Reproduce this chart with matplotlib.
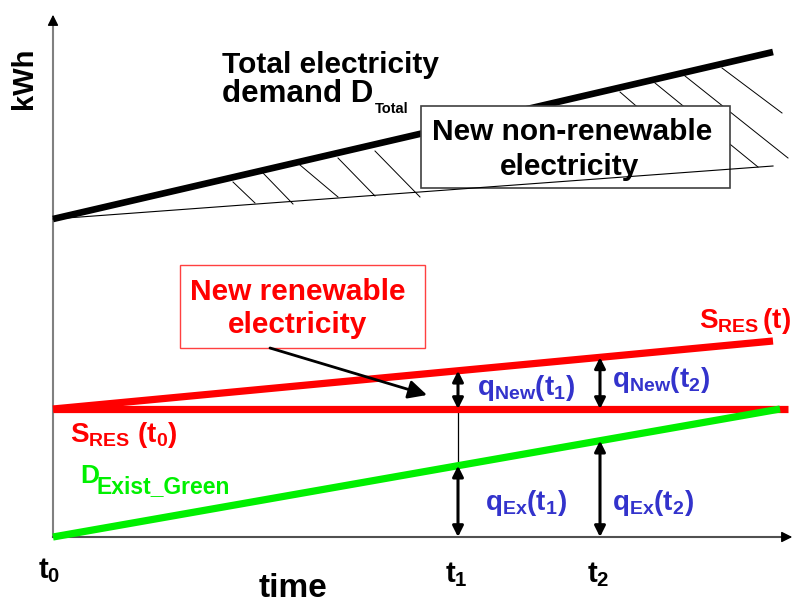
import matplotlib
matplotlib.use("Agg")
import matplotlib.pyplot as plt
from matplotlib.patches import Rectangle
import numpy as np

plt.rcParams["font.family"] = ["Liberation Sans", "DejaVu Sans"]
plt.rcParams["font.weight"] = "bold"
plt.rcParams["mathtext.fontset"] = "custom"
for k in ("rm", "it", "bf", "sf"):
    plt.rcParams["mathtext." + k] = "Liberation Sans:bold"

# --- Schema-Daten (Zeit rechts, kWh hoch; Ursprung = Achsenkreuz) ---
T0, T1, T2 = 0, 405, 547
demand_x, demand_y = [0, 720], [318, 485]          # D_Total
floor_x, floor_y = [0, 720], [318, 371]            # untere Grenze neue nicht-EE
sres0_x, sres0_y = [0, 735], [128, 128]            # S_RES(t0)
sres_x, sres_y = [0, 720], [128, 196]              # S_RES(t)
green_x, green_y = [0, 727], [0, 128]              # D_Exist_Green
hatch_x0 = [180, 210, 247, 285, 322, 567, 602, 632, 669]
hatch_y0 = [355, 364, 372, 379, 386, 445, 454, 461, 469]
hatch_x1 = [202, 240, 285, 322, 367, 657, 705, 735, 729]
hatch_y1 = [334, 333, 340, 341, 340, 367, 370, 379, 424]
x_axis_end, y_axis_end = 742, 525

RED, GREEN, BLUE = "#ff0000", "#00f000", "#3333cc"

fig = plt.figure(figsize=(7.95, 6.04), dpi=100)
ax = fig.add_axes([0, 0, 1, 1])
ax.set_xlim(-53, 742)
ax.set_ylim(-67, 537)
ax.axis("off")

# Achsen
ax.plot([0, 0], [0, y_axis_end - 8], color="#808080", lw=1.5)
ax.plot([0, x_axis_end - 8], [0, 0], color="#505050", lw=1.5)
ax.annotate("", xy=(0, y_axis_end), xytext=(0, y_axis_end - 10),
            arrowprops=dict(arrowstyle="-|>", color="black", lw=1, mutation_scale=16))
ax.annotate("", xy=(x_axis_end, 0), xytext=(x_axis_end - 10, 0),
            arrowprops=dict(arrowstyle="-|>", color="black", lw=1, mutation_scale=16))

# Gesamtnachfrage + Schraffur
ax.plot(demand_x, demand_y, color="black", lw=4.8, solid_capstyle="butt", zorder=2)
for xa, ya, xb, yb in zip(hatch_x0, hatch_y0, hatch_x1, hatch_y1):
    ax.plot([xa, xb], [ya, yb], color="black", lw=0.7, zorder=2)
ax.add_patch(Rectangle((368, 349), 309, 82, facecolor="white", edgecolor="#404040",
                       lw=1.2, zorder=3))
ax.plot(floor_x, floor_y, color="black", lw=0.8, zorder=4)
ax.text(519, 397, "New non-renewable", ha="center", va="baseline", fontsize=21.5, zorder=5)
ax.text(517, 362, "electricity", ha="center", va="baseline", fontsize=21.5, zorder=5)
ax.text(169, 464, "Total electricity", ha="left", va="baseline", fontsize=21.5)
ax.text(169, 435, "demand D", ha="left", va="baseline", fontsize=22.5)
ax.text(322, 424, "Total", ha="left", va="baseline", fontsize=10.5)

# EE-Linien
ax.plot(sres0_x, sres0_y, color=RED, lw=5.2, solid_capstyle="butt", zorder=2)
ax.plot(sres_x, sres_y, color=RED, lw=5.2, solid_capstyle="butt", zorder=2)
ax.plot(green_x, green_y, color=GREEN, lw=5.2, solid_capstyle="butt", zorder=3)

# Pfeile q_New / q_Ex
for t in (T1, T2):
    s0 = np.interp(t, sres0_x, sres0_y)
    s1 = np.interp(t, sres_x, sres_y)
    g = np.interp(t, green_x, green_y)
    kw = dict(arrowstyle="<|-|>", color="black", lw=2.2, mutation_scale=16,
              shrinkA=0, shrinkB=0)
    ax.annotate("", xy=(t, s1), xytext=(t, s0), arrowprops=kw, zorder=4)
    ax.annotate("", xy=(t, g), xytext=(t, 0), arrowprops=kw, zorder=4)
g1 = np.interp(T1, green_x, green_y)
ax.plot([T1, T1], [g1, sres0_y[0]], color="black", lw=0.9, zorder=1)

# Kasten neue EE + Zeiger
ax.add_patch(Rectangle((127, 189), 245, 83, facecolor="white", edgecolor="#ff4040",
                       lw=1.0, zorder=3))
ax.text(245, 237, "New renewable", ha="center", va="baseline", fontsize=21.5, color=RED, zorder=5)
ax.text(245, 204, "electricity", ha="center", va="baseline", fontsize=21.5, color=RED, zorder=5)
ax.annotate("", xy=(374, 142), xytext=(217, 189),
            arrowprops=dict(arrowstyle="-|>", color="black", lw=2, mutation_scale=28,
                            shrinkA=0, shrinkB=0), zorder=5)

# Beschriftungen
ax.text(17, 95, r"$\mathrm{S}_{\mathrm{RES}}\ (\mathrm{t}_{0})$", color=RED, fontsize=20, va="baseline")
ax.text(27, 54, "D", color=GREEN, fontsize=19, va="baseline")
ax.text(44, 44, "Exist_Green", color=GREEN, fontsize=16.5, va="baseline")
ax.text(646, 209, r"$\mathrm{S}_{\mathrm{RES}}\,(\mathrm{t})$", color=RED, fontsize=20, va="baseline")
ax.text(424, 142, r"$\mathrm{q}_{\mathrm{New}}(\mathrm{t}_{1})$", color=BLUE, fontsize=20, va="baseline")
ax.text(559, 150, r"$\mathrm{q}_{\mathrm{New}}(\mathrm{t}_{2})$", color=BLUE, fontsize=20, va="baseline")
ax.text(432, 27, r"$\mathrm{q}_{\mathrm{Ex}}(\mathrm{t}_{1})$", color=BLUE, fontsize=20, va="baseline")
ax.text(559, 27, r"$\mathrm{q}_{\mathrm{Ex}}(\mathrm{t}_{2})$", color=BLUE, fontsize=20, va="baseline")

ax.text(-29, 459, "kWh", rotation=90, ha="center", va="center", fontsize=21)
ax.text(T0 - 15, -41, r"$\mathrm{t}_{0}$", fontsize=21, va="baseline")
ax.text(T1 - 13, -45, r"$\mathrm{t}_{1}$", fontsize=21, va="baseline")
ax.text(T2 - 13, -45, r"$\mathrm{t}_{2}$", fontsize=21, va="baseline")
ax.text(240, -60, "time", ha="center", va="baseline", fontsize=24)

fig.savefig("out.png", dpi=100)
